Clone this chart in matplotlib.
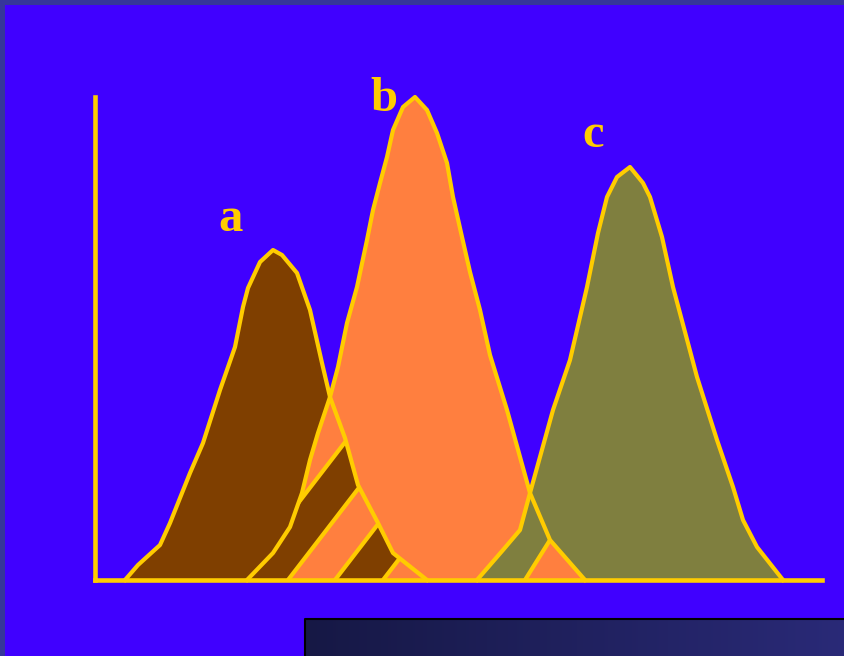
import numpy as np
import matplotlib
matplotlib.use('Agg')
import matplotlib.pyplot as plt
from matplotlib.patches import Polygon, Rectangle
from matplotlib.colors import LinearSegmentedColormap

# curve outlines
a_x = [3.0, 4.3, 6.5, 7.5, 9.5, 10.8, 12.5, 14.0, 14.8, 15.3, 16.5, 17.8, 18.7,
       20.2, 21.5, 22.7, 23.5, 25.0, 26.3, 28.3, 29.8, 33.2]
a_y = [0.0, 1.5, 3.5, 5.7, 10.7, 13.7, 19.0, 23.3, 27.3, 29.2, 31.8, 33.0, 32.5,
       30.7, 27.0, 21.7, 18.3, 14.2, 9.5, 5.7, 2.7, 0.0]

b_x = [15.2, 17.8, 19.5, 20.7, 21.5, 22.3, 23.5, 24.3, 25.2, 26.2, 27.2, 27.8,
       28.5, 29.2, 29.8, 30.8, 32.0, 33.2, 34.2, 35.2, 35.8, 36.7, 37.5, 38.5,
       39.5, 41.2, 43.5, 45.5, 49.0]
b_y = [0.0, 2.7, 5.3, 8.7, 12.0, 14.7, 18.3, 21.3, 25.7, 29.3, 34.0, 37.0,
       39.7, 42.3, 45.0, 47.3, 48.3, 47.0, 44.7, 41.7, 38.3, 34.3, 30.8, 27.0,
       22.5, 17.0, 8.7, 4.0, 0.0]

c_x = [38.2, 40.8, 42.5, 43.5, 45.8, 47.5, 49.2, 50.3, 51.2, 52.2, 53.5, 54.8,
       55.5, 56.7, 57.8, 60.2, 62.2, 63.8, 64.8, 66.2, 68.8]
c_y = [0.0, 3.0, 5.0, 8.7, 17.0, 22.0, 29.3, 34.7, 38.3, 40.3, 41.3, 39.7,
       38.3, 34.3, 29.3, 20.3, 14.0, 9.3, 6.0, 3.3, 0.0]

labels = ['a', 'b', 'c']
label_x = [13.6, 28.9, 49.8]
label_y = [34.9, 46.9, 43.3]

# stripes in the overlaps (where they meet the baseline)
stripe_ab = [14.4, 19.3, 24.0, 28.8]
stripe_bc = [43.0]

gold = '#FFCC00'
brown = '#7F3F00'
orange = '#FF7F3F'
olive = '#7F7F3F'

fig = plt.figure(figsize=(8.44, 6.56), dpi=100, facecolor='#4000FF')
ax = fig.add_axes([0, 0, 1, 1])
ax.set_facecolor('#4000FF')

xs = np.linspace(0, 72, 4000)
ya = np.interp(xs, a_x, a_y, left=0, right=0)
yb = np.interp(xs, b_x, b_y, left=0, right=0)
yc = np.interp(xs, c_x, c_y, left=0, right=0)

ax.fill(a_x, a_y, color=brown, lw=0, zorder=1)
ax.fill(b_x, b_y, color=orange, lw=0, zorder=1)
ax.fill(c_x, c_y, color=olive, lw=0, zorder=1)


def band(x0, x1, slope, top=60):
    return [(x0, 0), (x0 + top / slope, top), (x1 + top / slope, top), (x1, 0)]


def hatch(ov, base, other, edges, slope, bands):
    poly = Polygon(np.column_stack([xs, ov]), closed=True, fc=base, lw=0, zorder=2)
    ax.add_patch(poly)
    for i, j in bands:
        x1 = edges[j] if j is not None else 200
        p = Polygon(band(edges[i], x1, slope), closed=True, fc=other, lw=0, zorder=3)
        ax.add_patch(p)
        p.set_clip_path(poly)
    for x0 in edges:
        ln, = ax.plot([x0, x0 + 60 / slope], [0, 60], color=gold, lw=3, zorder=4,
                      solid_capstyle='butt')
        ln.set_clip_path(poly)


hatch(np.minimum(ya, yb), orange, brown, stripe_ab, 1.3, [(0, 1), (2, 3)])
hatch(np.minimum(yb, yc), olive, orange, stripe_bc, 1.6, [(0, None)])

for cx, cy in [(a_x, a_y), (b_x, b_y), (c_x, c_y)]:
    ax.plot(cx, cy, color=gold, lw=3, zorder=5, solid_joinstyle='round')

for lab, lx, ly in zip(labels, label_x, label_y):
    ax.text(lx, ly, lab, color=gold, fontsize=35, fontweight='bold',
            family='Liberation Serif', ha='center', va='baseline', zorder=6)

# axes
for s in ['top', 'right']:
    ax.spines[s].set_visible(False)
ax.spines['left'].set_position(('data', 0))
ax.spines['bottom'].set_position(('data', 0))
ax.spines['left'].set_bounds(0, 48.3)
ax.spines['bottom'].set_bounds(0, 72.7)
for s in ['left', 'bottom']:
    ax.spines[s].set_color(gold)
    ax.spines[s].set_linewidth(3.3)
    ax.spines[s].set_zorder(7)
ax.set_xticks([])
ax.set_yticks([])

# dark gradient bar at the bottom
grad = np.linspace(0, 1, 256).reshape(1, -1)
cmap = LinearSegmentedColormap.from_list('bar', ['#161845', '#2A2A78'])
ax.imshow(grad, extent=[21.0, 75.5, -7.7, -3.9], aspect='auto', cmap=cmap, zorder=1)
ax.plot([21.0, 21.0, 75.5], [-7.7, -3.9, -3.9], color='black', lw=1.5, zorder=2)

ax.set_xlim(-9.5, 74.9)
ax.set_ylim(-7.6, 58.0)

# frame strips on top and left
fig.add_artist(Rectangle((0, 1 - 5 / 656), 1, 5 / 656, transform=fig.transFigure,
                         color='#36369A', lw=0))
fig.add_artist(Rectangle((0, 0), 5 / 844, 1, transform=fig.transFigure,
                         color='#36369A', lw=0))

fig.savefig('out.png', dpi=100, facecolor=fig.get_facecolor())
